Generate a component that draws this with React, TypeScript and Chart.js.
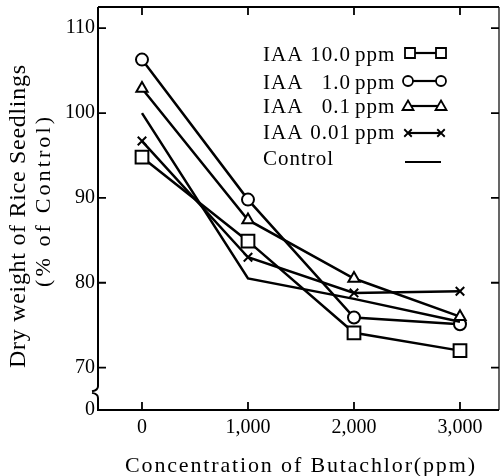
import React, { useEffect, useRef } from 'react';
import { Chart, registerables } from 'chart.js';

Chart.register(...registerables);

// ---- data ----
const CONCENTRATIONS = [0, 1000, 2000, 3000];
const IAA_10 = [94.8, 84.9, 74.1, 72.0];
const IAA_1 = [106.3, 89.8, 75.9, 75.1];
const IAA_01 = [102.9, 87.4, 80.5, 76.0];
const IAA_001 = [96.7, 83.0, 78.8, 79.0];
const CONTROL = [100.0, 80.5, 78.1, 75.4];

const X_TICKS = [0, 1000, 2000, 3000];
const Y_TICKS = [65, 70, 80, 90, 100, 110]; // 65 is the broken-axis origin, labelled "0"
const Y_TICK_LABELS = ['0', '70', '80', '90', '100', '110'];
const Y_MARK_TICKS = [70, 80, 90, 100, 110];

const LEGEND_DOSES = ['10.0', '1.0', '0.1', '0.01'];
const LEGEND_STYLES = ['rect', 'circle', 'triangle', 'crossRot'];
const CONTROL_LABEL = 'Control';
const X_TITLE = 'Concentration of Butachlor(ppm)';
const Y_TITLE_1 = 'Dry weight of Rice Seedlings';
const Y_TITLE_2 = '(% of Control)';

const FONT = "'Liberation Serif', 'Times New Roman', serif";

function fitText(ctx: CanvasRenderingContext2D, text: string, x: number, y: number, width: number, font: string) {
  ctx.font = font;
  (ctx as any).letterSpacing = '0px';
  const w = ctx.measureText(text).width;
  const ls = (width - w) / Math.max(1, text.length - 1);
  (ctx as any).letterSpacing = ls + 'px';
  ctx.textAlign = 'left';
  ctx.fillText(text, x, y);
  (ctx as any).letterSpacing = '0px';
}

function drawMarker(ctx: CanvasRenderingContext2D, style: string, x: number, y: number, r: number) {
  ctx.beginPath();
  if (style === 'rect') {
    const s = r;
    ctx.rect(x - s, y - s, 2 * s, 2 * s);
    ctx.fill(); ctx.stroke();
  } else if (style === 'circle') {
    ctx.arc(x, y, r, 0, Math.PI * 2);
    ctx.fill(); ctx.stroke();
  } else if (style === 'triangle') {
    ctx.moveTo(x, y - r * 1.1);
    ctx.lineTo(x + r * 1.1, y + r * 0.8);
    ctx.lineTo(x - r * 1.1, y + r * 0.8);
    ctx.closePath();
    ctx.fill(); ctx.stroke();
  } else if (style === 'crossRot') {
    ctx.moveTo(x - r * 0.75, y - r * 0.75);
    ctx.lineTo(x + r * 0.75, y + r * 0.75);
    ctx.moveTo(x + r * 0.75, y - r * 0.75);
    ctx.lineTo(x - r * 0.75, y + r * 0.75);
    ctx.stroke();
  }
}

const decor = {
  id: 'decor',
  afterDraw(chart: any) {
    const { ctx, chartArea, scales } = chart;
    const { left, right, top, bottom } = chartArea;
    const xs = scales.x;
    const ys = scales.y;
    ctx.save();
    ctx.strokeStyle = '#000';
    ctx.fillStyle = '#000';

    // frame
    ctx.lineWidth = 2;
    ctx.beginPath();
    ctx.moveTo(left, top); ctx.lineTo(right, top);
    ctx.moveTo(left - 1, bottom); ctx.lineTo(right, bottom);
    ctx.stroke();
    ctx.lineWidth = 1.2;
    ctx.beginPath();
    ctx.moveTo(right, top); ctx.lineTo(right, bottom);
    ctx.stroke();

    // left axis with break
    const yHi = ys.getPixelForValue(67.8);
    const yLo = ys.getPixelForValue(66.9);
    ctx.lineWidth = 2;
    ctx.beginPath();
    ctx.moveTo(left, top);
    ctx.lineTo(left, yHi);
    ctx.quadraticCurveTo(left, yHi + 4, left - 6, yHi + 5);
    ctx.moveTo(left - 6, yLo - 1);
    ctx.quadraticCurveTo(left, yLo, left, yLo + 4);
    ctx.lineTo(left, bottom);
    ctx.stroke();

    // inward ticks
    ctx.lineWidth = 1.8;
    ctx.beginPath();
    for (const v of Y_MARK_TICKS) {
      const py = ys.getPixelForValue(v);
      ctx.moveTo(left, py); ctx.lineTo(left + 8, py);
      ctx.moveTo(right, py); ctx.lineTo(right - 8, py);
    }
    for (const v of X_TICKS) {
      const px = xs.getPixelForValue(v);
      ctx.moveTo(px, top); ctx.lineTo(px, top + 8);
      ctx.moveTo(px, bottom); ctx.lineTo(px, bottom - 8);
    }
    ctx.stroke();

    // titles
    ctx.textBaseline = 'alphabetic';
    fitText(ctx, X_TITLE, 125, 472, 350, `22px ${FONT}`);
    ctx.save();
    ctx.translate(25, 368);
    ctx.rotate(-Math.PI / 2);
    fitText(ctx, Y_TITLE_1, 0, 0, 303, `24px ${FONT}`);
    ctx.restore();
    ctx.save();
    ctx.translate(50, 287);
    ctx.rotate(-Math.PI / 2);
    fitText(ctx, Y_TITLE_2, 0, 0, 170, `22px ${FONT}`);
    ctx.restore();

    // legend
    const rowBase = [61, 89, 112.5, 139];
    const rowMark = [53, 81, 106, 133];
    const font = `21px ${FONT}`;
    for (let i = 0; i < LEGEND_DOSES.length; i++) {
      ctx.font = font;
      (ctx as any).letterSpacing = '1px';
      ctx.textAlign = 'left';
      ctx.fillText('IAA', 263, rowBase[i]);
      ctx.textAlign = 'right';
      ctx.fillText(LEGEND_DOSES[i], 351, rowBase[i]);
      ctx.textAlign = 'left';
      ctx.fillText('ppm', 355, rowBase[i]);
      (ctx as any).letterSpacing = '0px';
      ctx.lineWidth = 2.2;
      ctx.beginPath();
      ctx.moveTo(409, rowMark[i]); ctx.lineTo(441, rowMark[i]);
      ctx.stroke();
      ctx.fillStyle = '#fff';
      ctx.lineWidth = 1.8;
      drawMarker(ctx, LEGEND_STYLES[i], i === 0 ? 410 : 408, rowMark[i], 5);
      drawMarker(ctx, LEGEND_STYLES[i], 441, rowMark[i], 5);
      ctx.fillStyle = '#000';
    }
    ctx.font = font;
    (ctx as any).letterSpacing = '1px';
    ctx.textAlign = 'left';
    ctx.fillText(CONTROL_LABEL, 263, 165);
    (ctx as any).letterSpacing = '0px';
    ctx.lineWidth = 2.2;
    ctx.beginPath();
    ctx.moveTo(405, 162); ctx.lineTo(441, 162);
    ctx.stroke();

    ctx.restore();
  },
};

function series(label: string, values: number[], pointStyle: any, radius: number) {
  return {
    label,
    data: values.map((v, i) => ({ x: CONCENTRATIONS[i], y: v })),
    borderColor: '#000',
    borderWidth: 2.5,
    pointStyle,
    pointRadius: radius,
    pointBorderWidth: 2,
    pointBackgroundColor: '#fff',
    pointBorderColor: '#000',
    fill: false,
    tension: 0,
  };
}

export default function App() {
  const ref = useRef<HTMLCanvasElement | null>(null);
  useEffect(() => {
    if (!ref.current) return;
    const chart = new Chart(ref.current, {
      type: 'line',
      data: {
        datasets: [
          series('Control', CONTROL, false, 0),
          series('IAA 0.01 ppm', IAA_001, 'crossRot', 6),
          series('IAA 0.1 ppm', IAA_01, 'triangle', 6.5),
          series('IAA 1.0 ppm', IAA_1, 'circle', 6),
          series('IAA 10.0 ppm', IAA_10, 'rect', 9),
        ] as any,
      },
      options: {
        animation: false,
        responsive: false,
        devicePixelRatio: 1,
        clip: false as any,
        layout: { autoPadding: false, padding: { left: 0, right: 3, top: 7, bottom: 0 } } as any,
        plugins: { legend: { display: false }, tooltip: { enabled: false } },
        scales: {
          x: {
            type: 'linear',
            min: -415,
            max: 3368,
            grid: { display: false, drawTicks: false },
            border: { display: false },
            afterBuildTicks: (s: any) => { s.ticks = X_TICKS.map((v) => ({ value: v })); },
            afterFit: (s: any) => {
              s.height = 66;
              s.paddingLeft = 0; s.paddingRight = 0; s.paddingTop = 0; s.paddingBottom = 0;
            },
            ticks: {
              padding: 6,
              color: '#000',
              font: { family: FONT, size: 20 },
              maxRotation: 0,
              callback: (v: any) => Number(v).toLocaleString('en-US'),
            },
          },
          y: {
            type: 'linear',
            min: 65,
            max: 112.5,
            grid: { display: false, drawTicks: false },
            border: { display: false },
            afterBuildTicks: (s: any) => { s.ticks = Y_TICKS.map((v) => ({ value: v })); },
            afterFit: (s: any) => {
              s.width = 98;
              s.paddingLeft = 0; s.paddingRight = 0; s.paddingTop = 0; s.paddingBottom = 0;
            },
            ticks: {
              padding: 3,
              color: '#000',
              font: { family: FONT, size: 20 },
              callback: (v: any) => Y_TICK_LABELS[Y_TICKS.indexOf(Number(v))] ?? '',
            },
          },
        },
      },
      plugins: [decor],
    });
    return () => chart.destroy();
  }, []);
  return (
    <div style={{ position: 'fixed', left: 0, top: 0, width: 502, height: 476, background: '#fff' }}>
      <canvas ref={ref} width={502} height={476} style={{ display: 'block' }} />
    </div>
  );
}
